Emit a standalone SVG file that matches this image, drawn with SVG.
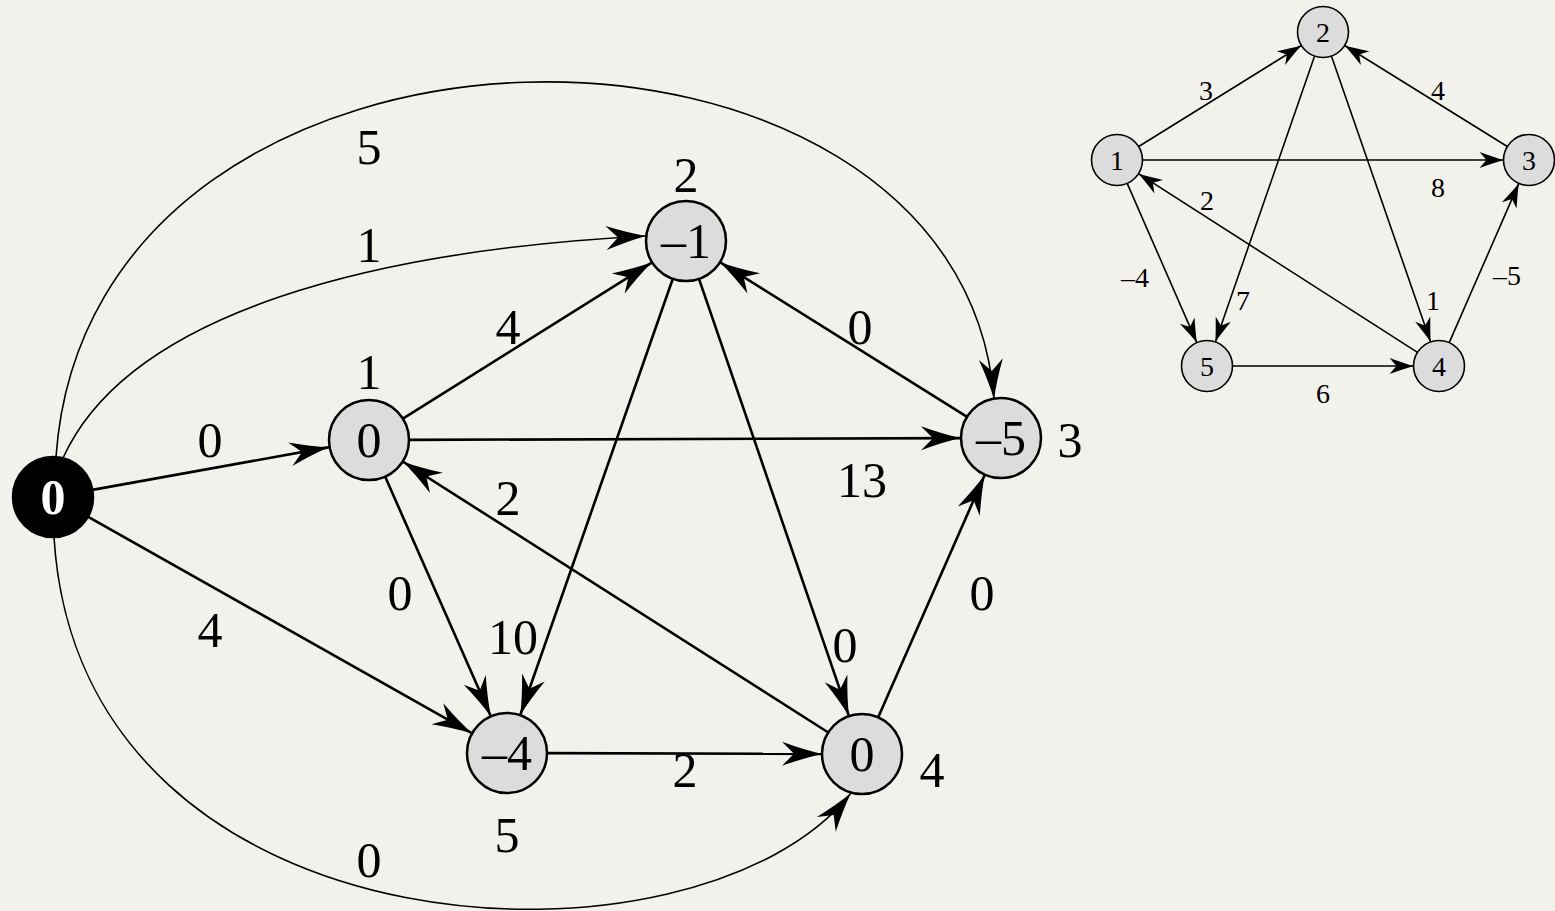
<svg xmlns="http://www.w3.org/2000/svg" width="1555" height="911" viewBox="0 0 1555 911">
<style>
text{font-family:"Liberation Serif","Times New Roman",serif;text-anchor:middle;dominant-baseline:central;fill:#000}
.big{font-size:50px}
.sm{font-size:28px}
.node{fill:#dcdcdc;stroke:#000;stroke-width:2.5}
.snode{fill:#dcdcdc;stroke:#000;stroke-width:1.6}
.e{stroke:#000;stroke-width:2.6;fill:none;marker-end:url(#ah)}
.c{stroke:#000;stroke-width:1.6;fill:none;marker-end:url(#ah)}
.se{stroke:#000;stroke-width:1.6;fill:none;marker-end:url(#sah)}
</style>
<defs>
<marker id="ah" markerUnits="userSpaceOnUse" markerWidth="50" markerHeight="30" viewBox="-44 -15 50 30" refX="0" refY="0" orient="auto" overflow="visible">
<path d="M0,0 Q-18,-4 -40,-12 L-28,0 L-40,12 Q-18,4 0,0 Z" fill="#000"/>
</marker>
<marker id="sah" markerUnits="userSpaceOnUse" markerWidth="30" markerHeight="20" viewBox="-27 -10 30 20" refX="0" refY="0" orient="auto" overflow="visible">
<path d="M0,0 Q-10,-3 -24,-8 L-17,0 L-24,8 Q-10,3 0,0 Z" fill="#000"/>
</marker>
</defs>
<rect x="0" y="0" width="1555" height="911" fill="#f3f1ec"/>
<g id="connectors">
<path class="c" d="M56,457 C90,-33 960,-33 994,399"/>
<path class="c" d="M63,458 C130,310 380,250 646,236"/>
<path class="c" d="M54,537 C80,965 700,985 851,793"/>
<line class="e" x1="92.4" y1="489.9" x2="329.6" y2="447.1"/>
<line class="e" x1="87.8" y1="516.6" x2="472.2" y2="733.4"/>
<line class="e" x1="402.9" y1="418.7" x2="652.1" y2="262.3"/>
<line class="e" x1="409" y1="439.9" x2="961" y2="438.1"/>
<line class="e" x1="385.1" y1="476.6" x2="490.9" y2="716.4"/>
<line class="e" x1="672.8" y1="278.8" x2="520.2" y2="715.2"/>
<line class="e" x1="699" y1="278.8" x2="849" y2="716.2"/>
<line class="e" x1="967.1" y1="416.8" x2="719.9" y2="262.2"/>
<line class="e" x1="828.3" y1="732.5" x2="402.7" y2="461.5"/>
<line class="e" x1="547" y1="753.1" x2="822" y2="753.9"/>
<line class="e" x1="878.1" y1="717.4" x2="984.9" y2="474.6"/>
<line class="se" x1="1138.7" y1="146.5" x2="1301.3" y2="45.5"/>
<line class="se" x1="1142.5" y1="160" x2="1503.5" y2="160"/>
<line class="se" x1="1127.2" y1="183.4" x2="1196.8" y2="342.6"/>
<line class="se" x1="1314.6" y1="56.1" x2="1215.4" y2="341.9"/>
<line class="se" x1="1331.4" y1="56.1" x2="1430.6" y2="341.9"/>
<line class="se" x1="1507.3" y1="146.5" x2="1344.7" y2="45.5"/>
<line class="se" x1="1417.5" y1="352.3" x2="1138.5" y2="173.7"/>
<line class="se" x1="1232.5" y1="366" x2="1413.5" y2="366"/>
<line class="se" x1="1449.2" y1="342.6" x2="1518.8" y2="183.4"/>
</g>
<g id="edge-labels">
<text class="big" x="369" y="147">5</text>
<text class="big" x="369" y="245">1</text>
<text class="big" x="508" y="327">4</text>
<text class="big" x="860" y="327">0</text>
<text class="big" x="210" y="440">0</text>
<text class="big" x="862" y="480">13</text>
<text class="big" x="508" y="498">2</text>
<text class="big" x="400" y="593">0</text>
<text class="big" x="982" y="593">0</text>
<text class="big" x="210" y="630">4</text>
<text class="big" x="513" y="637">10</text>
<text class="big" x="845" y="645">0</text>
<text class="big" x="685" y="770">2</text>
<text class="big" x="369" y="860">0</text>
<text class="sm" x="1206" y="90">3</text>
<text class="sm" x="1438" y="90">4</text>
<text class="sm" x="1438" y="187">8</text>
<text class="sm" x="1207" y="200">2</text>
<text class="sm" x="1135" y="277">–4</text>
<text class="sm" x="1243" y="300">7</text>
<text class="sm" x="1433" y="300">1</text>
<text class="sm" x="1507" y="275">–5</text>
<text class="sm" x="1323" y="393">6</text>
</g>
<g id="node-s">
<circle cx="53" cy="497" r="40" fill="#000" stroke="#000" stroke-width="2.5"/>
<text class="big" x="53" y="497" style="fill:#fff;font-weight:bold">0</text>
</g>
<g id="node-1">
<circle class="node" cx="369" cy="440" r="40"/>
<text class="big" x="369" y="440">0</text>
<text class="big" x="369" y="372">1</text>
</g>
<g id="node-2">
<circle class="node" cx="686" cy="241" r="40"/>
<text class="big" x="686" y="241">–1</text>
<text class="big" x="686" y="175">2</text>
</g>
<g id="node-3">
<circle class="node" cx="1001" cy="438" r="40"/>
<text class="big" x="1001" y="438">–5</text>
<text class="big" x="1070" y="440">3</text>
</g>
<g id="node-4">
<circle class="node" cx="862" cy="754" r="40"/>
<text class="big" x="862" y="754">0</text>
<text class="big" x="932" y="770">4</text>
</g>
<g id="node-5">
<circle class="node" cx="507" cy="753" r="40"/>
<text class="big" x="507" y="753">–4</text>
<text class="big" x="507" y="835">5</text>
</g>
<g id="small-1">
<circle class="snode" cx="1117" cy="160" r="25.5"/>
<text class="sm" x="1117" y="160">1</text>
</g>
<g id="small-2">
<circle class="snode" cx="1323" cy="32" r="25.5"/>
<text class="sm" x="1323" y="32">2</text>
</g>
<g id="small-3">
<circle class="snode" cx="1529" cy="160" r="25.5"/>
<text class="sm" x="1529" y="160">3</text>
</g>
<g id="small-4">
<circle class="snode" cx="1439" cy="366" r="25.5"/>
<text class="sm" x="1439" y="366">4</text>
</g>
<g id="small-5">
<circle class="snode" cx="1207" cy="366" r="25.5"/>
<text class="sm" x="1207" y="366">5</text>
</g>
</svg>
